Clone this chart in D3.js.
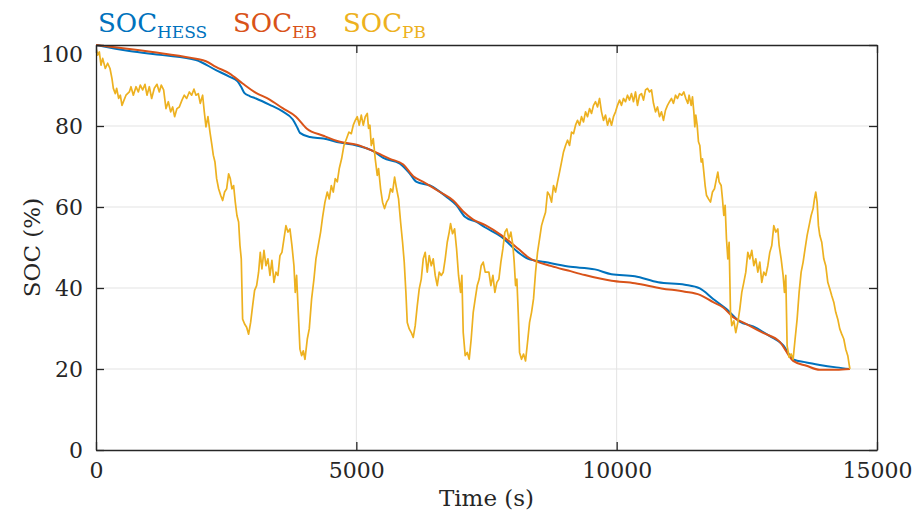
<!DOCTYPE html>
<html>
<head>
<meta charset="utf-8">
<script src="https://cdn.jsdelivr.net/npm/d3@7"></script>
<style>
  html, body { margin: 0; padding: 0; background: #fff; }
  svg { display: block; }
  text { font-family: "DejaVu Serif", "Liberation Serif", serif; fill: #262626; }
</style>
</head>
<body>
<svg id="chart" width="922" height="517"></svg>
<script>
// ---------------- data ----------------
const xTicks = [0, 5000, 10000, 15000];
const yTicks = [0, 20, 40, 60, 80, 100];
const xLabel = "Time (s)";
const yLabel = "SOC (%)";
const seriesNames = ["HESS", "EB", "PB"];

const timeHESS = [0,640,1280,1920,2304,2560,2720,2790,2848,2950,3072,3328,3584,3780,3870,3917,4109,4365,4685,5005,5325,5517,5837,6029,6157,6413,6733,6925,7085,7309,7469,7789,8109,8301,8621,9069,9581,9901,10349,10797,11309,11597,11853,12109,12365,12621,12941,13197,13389,13645,13901,14221,14480];
const socHESS  = [100,98.5,97.5,96.3,93.8,92.2,91.0,89.6,88.2,87.4,86.8,85.3,83.6,81.6,79.5,78.3,77.3,76.9,75.9,75.2,73.8,72.1,70.7,68.2,66.2,65.3,62.5,60.4,57.6,56.3,55.0,52.6,48.8,47.2,46.4,45.3,44.6,43.4,42.9,41.4,40.8,39.9,37.3,34.8,31.7,30.5,28.1,25.9,22.4,21.6,21.0,20.4,20.0];

const timeEB = [0,640,1280,1920,2112,2304,2560,2816,3072,3328,3584,3840,4045,4365,4685,5005,5325,5645,5901,6093,6285,6605,6861,7053,7245,7469,7789,8109,8301,8749,9069,9389,9901,10349,10861,11309,11597,11853,12045,12237,12493,12813,13133,13389,13645,13901,14221,14480];
const socEB  = [100,99.0,97.9,96.6,96.0,94.6,93.0,90.5,88.2,86.6,84.4,82.3,79.4,77.6,76.1,75.4,73.8,71.9,70.5,67.6,66.2,63.7,61.6,58.9,56.9,55.6,53.0,49.7,47.6,45.4,44.3,43.2,41.8,41.2,39.9,39.1,38.3,36.5,35.2,32.8,31.1,28.9,26.7,22.0,20.8,19.8,19.8,20.0];

const timePB = [0,32,64,96,128,179,224,269,307,333,371,397,435,467,499,538,576,640,672,717,768,813,851,896,941,979,1024,1069,1120,1171,1216,1254,1299,1344,1389,1434,1472,1510,1555,1600,1651,1696,1741,1792,1837,1882,1920,1965,2003,2048,2080,2112,2150,2189,2227,2253,2285,2317,2355,2394,2432,2470,2509,2547,2579,2611,2643,2675,2707,2739,2765,2790,2816,2854,2893,2931,2970,3008,3046,3085,3123,3155,3187,3226,3264,3302,3341,3379,3418,3456,3494,3533,3571,3610,3648,3686,3725,3763,3802,3827,
  3853,3885,3917,3949,3981,4013,4058,4096,4141,4186,4224,4269,4314,4352,4397,4442,4480,4519,4557,4595,4634,4672,4717,4762,4813,4858,4903,4941,4979,5018,5056,5095,5133,5171,5210,5235,5261,5287,5325,5363,5402,5427,5466,5504,5542,5581,5619,5658,5696,5735,5773,5811,5850,5888,5920,5952,5978,6016,6055,6093,6131,6170,6208,6247,6285,6323,6362,6400,6439,6477,6515,6554,6592,6631,6669,6707,6746,6784,6810,6848,6887,6925,6963,7002,7027,7053,7091,7130,7168,7206,7245,7283,7322,7360,7398,7437,7475,
  7546,7584,7623,7661,7699,7738,7776,7815,7853,7891,7930,7968,8007,8032,8058,8083,8109,8135,8173,8211,8250,8288,8327,8365,8403,8442,8480,8519,8557,8595,8634,8672,8711,8749,8787,8826,8864,8903,8941,8979,9018,9056,9095,9133,9171,9210,9248,9287,9325,9363,9402,9440,9479,9517,9555,9594,9632,9671,9709,9747,9786,9824,9863,9901,9939,9978,10016,10055,10093,10131,10170,10208,10247,10285,10323,10362,10400,10439,10477,10515,10554,10592,10631,10669,10707,10746,10784,10823,10861,10899,10938,10976,11015,11053,11091,11130,11168,11207,
  11251,11290,11328,11367,11392,11431,11456,11482,11501,11520,11546,11571,11597,11623,11648,11674,11699,11725,11763,11802,11840,11879,11917,11943,11968,12007,12032,12058,12083,12109,12135,12160,12186,12211,12250,12288,12327,12365,12403,12442,12480,12519,12557,12595,12634,12672,12711,12749,12787,12826,12864,12903,12941,12979,13018,13056,13095,13120,13159,13197,13223,13248,13274,13312,13351,13389,13427,13466,13504,13543,13581,13619,13658,13696,13735,13773,13799,13824,13850,13875,13901,13939,13978,14016,14055,14093,14131,14170,14208,14247,14285,14323,14362,14400,14439,14464,14480];
const socPB = [99.2,97.5,98.3,95.0,96.7,94.2,95.5,94.2,91.7,89.3,88.0,89.3,86.8,87.6,85.1,86.4,87.6,88.4,89.7,87.6,89.7,88.4,90.1,88.9,90.3,87.6,89.7,86.8,89.3,90.3,88.4,90.1,88.9,84.3,86.0,83.5,84.7,82.3,84.3,84.7,86.4,87.6,86.8,88.4,87.6,89.1,87.6,88.0,85.6,87.6,83.5,79.8,82.3,78.5,75.2,72.8,71.1,67.0,64.5,62.9,61.6,63.7,64.5,68.2,67.0,64.5,65.3,61.2,57.9,56.3,50.5,47.2,32.3,31.1,30.3,28.6,31.5,35.6,39.4,40.6,43.9,48.8,44.7,49.3,45.5,47.2,43.1,46.8,41.4,43.9,43.1,48.0,48.8,52.1,55.4,53.8,54.6,50.5,45.5,38.9,
  43.1,34.0,24.9,23.3,24.5,22.4,27.4,29.9,37.3,42.2,47.2,50.5,53.8,57.5,61.2,63.7,62.0,65.3,63.7,67.0,66.2,69.5,71.9,75.2,76.9,78.5,78.1,80.2,81.4,82.3,80.2,82.7,80.2,82.3,83.1,79.4,80.2,75.2,76.9,71.9,67.8,69.5,64.5,61.2,59.6,61.2,62.0,64.5,63.7,67.4,64.5,62.0,56.3,51.3,46.4,38.9,31.5,29.9,29.0,27.8,30.7,35.6,39.8,42.2,47.2,48.8,43.9,48.0,45.5,47.2,43.1,40.6,43.9,43.1,43.9,47.2,51.3,53.8,55.9,53.4,54.6,49.7,43.1,38.9,43.1,29.0,23.3,24.1,22.4,27.4,34.0,37.3,40.6,42.2,45.5,46.4,43.9,
  43.9,40.6,43.1,38.9,41.4,42.2,46.4,49.7,53.8,54.6,52.1,53.8,50.5,46.4,40.6,42.2,34.0,24.1,22.4,23.7,22.0,26.6,31.5,34.0,37.3,43.9,48.8,52.1,55.4,57.1,58.7,63.7,62.9,61.2,65.3,63.7,66.2,68.6,71.1,73.6,75.2,76.5,75.2,78.5,78.1,80.2,81.4,80.2,82.3,81.0,83.5,82.3,84.3,83.1,85.1,86.0,84.7,86.8,83.5,81.4,82.7,80.2,81.9,80.2,82.3,83.5,85.1,86.4,85.1,86.8,86.0,87.6,86.4,88.0,86.0,88.4,85.1,87.6,88.0,86.4,88.9,89.3,88.4,88.9,85.6,83.5,84.7,82.3,83.5,81.4,83.9,85.1,86.0,86.8,85.6,87.6,86.8,88.0,
  87.6,88.4,86.8,85.6,87.6,85.1,87.2,83.5,79.8,82.7,80.2,76.1,75.2,71.1,71.9,68.6,65.3,62.9,62.0,61.2,63.7,64.5,67.0,68.6,66.2,65.3,62.0,57.9,60.4,52.1,47.2,51.3,34.0,30.7,31.9,29.0,31.5,34.8,38.9,41.4,43.9,48.8,47.2,49.3,45.5,47.2,43.9,46.4,41.4,43.9,43.1,45.5,48.8,50.5,55.4,53.8,54.6,50.5,47.2,43.1,38.9,43.1,25.7,22.9,23.7,22.4,27.4,32.3,38.9,43.9,46.4,49.7,53.0,55.4,57.9,59.6,62.0,63.7,61.2,55.4,53.0,51.3,47.2,45.5,41.4,39.8,38.1,36.5,34.0,32.3,29.9,28.6,27.4,24.9,23.3,21.2,20.0];

// ---------------- layout ----------------
const svg = d3.select("#chart");
const L = 96, R = 877, T = 45, B = 450;
const x = d3.scaleLinear().domain([0, 15000]).range([L, R]);
const y = d3.scaleLinear().domain([0, 100]).range([B, T]);

const colors = { HESS: "#0072BD", EB: "#D95319", PB: "#EDB120" };

// grid
const grid = svg.append("g");
grid.selectAll("line.gy").data(yTicks.filter(d => d > 0 && d < 100)).enter().append("line")
  .attr("x1", L).attr("x2", R).attr("y1", d => y(d)).attr("y2", d => y(d))
  .attr("stroke", "#e3e3e3").attr("stroke-width", 1);
grid.selectAll("line.gx").data(xTicks.filter(d => d > 0 && d < 15000)).enter().append("line")
  .attr("y1", T).attr("y2", B).attr("x1", d => x(d)).attr("x2", d => x(d))
  .attr("stroke", "#e3e3e3").attr("stroke-width", 1);

// lines
svg.append("clipPath").attr("id", "clip").append("rect")
  .attr("x", L).attr("y", T - 2).attr("width", R - L).attr("height", B - T + 2);
const plot = svg.append("g").attr("clip-path", "url(#clip)");
const series = [
  { name: "HESS", t: timeHESS, v: socHESS, w: 2.0, curve: d3.curveMonotoneX },
  { name: "EB", t: timeEB, v: socEB, w: 2.0, curve: d3.curveMonotoneX },
  { name: "PB", t: timePB, v: socPB, w: 1.7, curve: d3.curveLinear }
];
series.forEach(s => {
  const pts = s.t.map((t, i) => [t, s.v[i]]);
  const line = d3.line().x(d => x(d[0])).y(d => y(d[1])).curve(s.curve);
  plot.append("path").datum(pts).attr("d", line)
    .attr("fill", "none").attr("stroke", colors[s.name])
    .attr("stroke-width", s.w).attr("stroke-linejoin", "round");
});

// axes (box with inward ticks)
const axisColor = "#262626";
const tickLen = 8;
const xAxisB = d3.axisBottom(x).tickValues(xTicks).tickSizeInner(-tickLen).tickSizeOuter(0).tickPadding(12).tickFormat(d3.format("d"));
const xAxisT = d3.axisTop(x).tickValues(xTicks).tickSizeInner(-tickLen).tickSizeOuter(0).tickFormat("");
const yAxisL = d3.axisLeft(y).tickValues(yTicks).tickSizeInner(-tickLen).tickSizeOuter(0).tickPadding(13).tickFormat(d3.format("d"));
const yAxisR = d3.axisRight(y).tickValues(yTicks).tickSizeInner(-tickLen).tickSizeOuter(0).tickFormat("");

function styleAxis(g) {
  g.select(".domain").attr("stroke", axisColor).attr("stroke-width", 1.3);
  g.selectAll(".tick line").attr("stroke", axisColor).attr("stroke-width", 1.3);
  g.selectAll(".tick text").attr("fill", axisColor).style("font-size", "22px")
    .style("font-family", '"DejaVu Serif", serif');
}
svg.append("g").attr("transform", `translate(0,${B})`).call(xAxisB).call(styleAxis);
svg.append("g").attr("transform", `translate(0,${T})`).call(xAxisT).call(styleAxis);
const gyl = svg.append("g").attr("transform", `translate(${L},0)`).call(yAxisL).call(styleAxis);
svg.append("g").attr("transform", `translate(${R},0)`).call(yAxisR).call(styleAxis);
// top label sits just under the axis top, as in the reference
gyl.selectAll(".tick").filter(d => d === 100).select("text").attr("dy", "0.32em").attr("y", 9);

// axis titles
svg.append("text").attr("x", (L + R) / 2).attr("y", 506).attr("text-anchor", "middle")
  .style("font-size", "23px").text(xLabel);
svg.append("text").attr("transform", `translate(40,${(T + B) / 2}) rotate(-90)`)
  .attr("text-anchor", "middle").style("font-size", "23px").text(yLabel);

// legend
const legendX = [98, 233, 343];
seriesNames.forEach((n, i) => {
  const t = svg.append("text").attr("x", legendX[i]).attr("y", 32)
    .style("font-size", "26px").style("fill", colors[n]);
  t.append("tspan").text("SOC");
  t.append("tspan").attr("dy", 6).style("font-size", "17px").text(n);
});
</script>
</body>
</html>
